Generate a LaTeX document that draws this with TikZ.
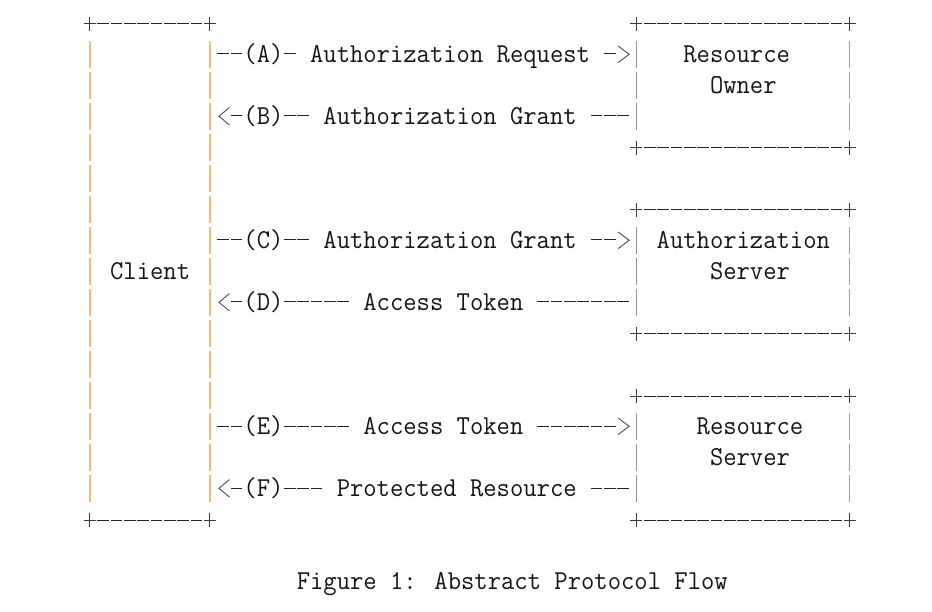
\documentclass[tikz,border=0pt]{standalone}
\usepackage{graphicx}
\definecolor{txtc}{HTML}{151515}
\definecolor{dshc}{HTML}{222222}
\definecolor{plc}{HTML}{353B42}
\definecolor{cbarc}{HTML}{F2BC76}
\definecolor{lbarc}{HTML}{979488}
\definecolor{rbarc}{HTML}{D38C8C}
\newlength\chw
\newcommand\mtfont{\fontsize{27.3pt}{30pt}\selectfont\ttfamily}
\newcommand\mt[1]{\scalebox{\kx}[1]{\mtfont #1}}
\tikzset{
  dsh/.style={draw=dshc,line width=1pt,dash pattern=on 11.6pt off 1.73pt},
  pl/.style={draw=plc,line width=1pt},
  cbar/.style={draw=cbarc,line width=1.6pt},
  lbar/.style={draw=lbarc,line width=1.1pt},
  rbar/.style={draw=rbarc,line width=1.2pt},
  chev/.style={draw=dshc!80,line width=0.9pt},
  txt/.style={anchor=base west,inner sep=0pt,text=txtc}
}
% row, first col, last col  (arrow dashes)
\newcommand\hdash[3]{\draw[dsh] ({colx(#2)-5.8},{rowy(#1)-1}) -- ({colx(#3)+5.8},{rowy(#1)-1});}
% border: row, left col, right col
\newcommand\bedge[3]{%
  \draw[dsh] ({colx(#2+1)-5.8},{rowy(#1)}) -- ({colx(#3-1)+5.8},{rowy(#1)});
  \draw[pl] ({colx(#2)-6},{rowy(#1)}) -- ({colx(#2)+6},{rowy(#1)})
            ({colx(#2)},{rowy(#1)-7.3}) -- ({colx(#2)},{rowy(#1)+7});
  \draw[pl] ({colx(#3)-6},{rowy(#1)}) -- ({colx(#3)+6},{rowy(#1)})
            ({colx(#3)},{rowy(#1)-7.3}) -- ({colx(#3)},{rowy(#1)+7});}
% bar: style, col, row
\newcommand\vb[3]{\draw[#1] ({colx(#2)},{rowy(#3)-14}) -- ({colx(#2)},{rowy(#3)+12.7});}
\newcommand\chR[2]{\draw[chev] ({colx(#1)-5},{rowy(#2)-9}) -- ({colx(#1)+6},{rowy(#2)-0.7}) -- ({colx(#1)-5},{rowy(#2)+7.6});}
\newcommand\chL[2]{\draw[chev] ({colx(#1)+6.2},{rowy(#2)-9.5}) -- ({colx(#1)-4.3},{rowy(#2)-0.7}) -- ({colx(#1)+6.2},{rowy(#2)+8});}
\begin{document}
\settowidth{\chw}{\mtfont M}%
\pgfmathsetmacro\kx{13.33/\chw}%
\global\let\kx\kx
\begin{tikzpicture}[x=1pt,y=-1pt,
  declare function={colx(\c)=23.3+13.33*\c; rowy(\r)=24+31*\r;}]
\useasboundingbox (0,0) rectangle (932,612);
\fill[white] (0,0) rectangle (932,612);
% ---- boxes
\bedge{0}{5}{14}\bedge{16}{5}{14}
\bedge{0}{46}{62}\bedge{4}{46}{62}
\bedge{6}{46}{62}\bedge{10}{46}{62}
\bedge{12}{46}{62}\bedge{16}{46}{62}
\foreach \r in {1,...,15}{\vb{cbar}{5}{\r}\vb{cbar}{14}{\r}}
\foreach \r in {1,2,3,7,8,9,13,14,15}{\vb{lbar}{46}{\r}\vb{rbar}{62}{\r}}
% ---- box labels
\node[txt] (client) at ({colx(7)-6.665},{rowy(8)+7.5}) {\mt{Client}};
\node[txt] (ro1) at ({colx(50)-6.665},{rowy(1)+7.5}) {\mt{Resource}};
\node[txt] (ro2) at ({colx(52)-6.665},{rowy(2)+7.5}) {\mt{Owner}};
\node[txt] (as1) at ({colx(48)-6.665},{rowy(7)+7.5}) {\mt{Authorization}};
\node[txt] (as2) at ({colx(52)-6.665},{rowy(8)+7.5}) {\mt{Server}};
\node[txt] (rs1) at ({colx(51)-6.665},{rowy(13)+7.5}) {\mt{Resource}};
\node[txt] (rs2) at ({colx(52)-6.665},{rowy(14)+7.5}) {\mt{Server}};
% ---- row A
\hdash{1}{15}{16}
\node[txt] (la) at ({colx(17)-6.665},{rowy(1)+7.5}) {\mt{(A)}};
\hdash{1}{20}{20}
\node[txt] (ta) at ({colx(22)-6.665},{rowy(1)+7.5}) {\mt{Authorization Request}};
\hdash{1}{44}{44}\chR{45}{1}
% ---- row B
\chL{15}{3}\hdash{3}{16}{16}
\node[txt] (lb) at ({colx(17)-6.665},{rowy(3)+7.5}) {\mt{(B)}};
\hdash{3}{20}{21}
\node[txt] (tb) at ({colx(23)-6.665},{rowy(3)+7.5}) {\mt{Authorization Grant}};
\hdash{3}{43}{45}
% ---- row C
\hdash{7}{15}{16}
\node[txt] (lc) at ({colx(17)-6.665},{rowy(7)+7.5}) {\mt{(C)}};
\hdash{7}{20}{21}
\node[txt] (tc) at ({colx(23)-6.665},{rowy(7)+7.5}) {\mt{Authorization Grant}};
\hdash{7}{43}{44}\chR{45}{7}
% ---- row D
\chL{15}{9}\hdash{9}{16}{16}
\node[txt] (ld) at ({colx(17)-6.665},{rowy(9)+7.5}) {\mt{(D)}};
\hdash{9}{20}{24}
\node[txt] (td) at ({colx(26)-6.665},{rowy(9)+7.5}) {\mt{Access Token}};
\hdash{9}{39}{45}
% ---- row E
\hdash{13}{15}{16}
\node[txt] (le) at ({colx(17)-6.665},{rowy(13)+7.5}) {\mt{(E)}};
\hdash{13}{20}{24}
\node[txt] (te) at ({colx(26)-6.665},{rowy(13)+7.5}) {\mt{Access Token}};
\hdash{13}{39}{44}\chR{45}{13}
% ---- row F
\chL{15}{15}\hdash{15}{16}{16}
\node[txt] (lf) at ({colx(17)-6.665},{rowy(15)+7.5}) {\mt{(F)}};
\hdash{15}{20}{22}
\node[txt] (tf) at ({colx(24)-6.665},{rowy(15)+7.5}) {\mt{Protected Resource}};
\hdash{15}{43}{45}
% ---- caption
\node[txt] (cap) at ({colx(21)-6.665},{rowy(18)+7.5}) {\mt{Figure 1: Abstract Protocol Flow}};
\end{tikzpicture}
\end{document}
